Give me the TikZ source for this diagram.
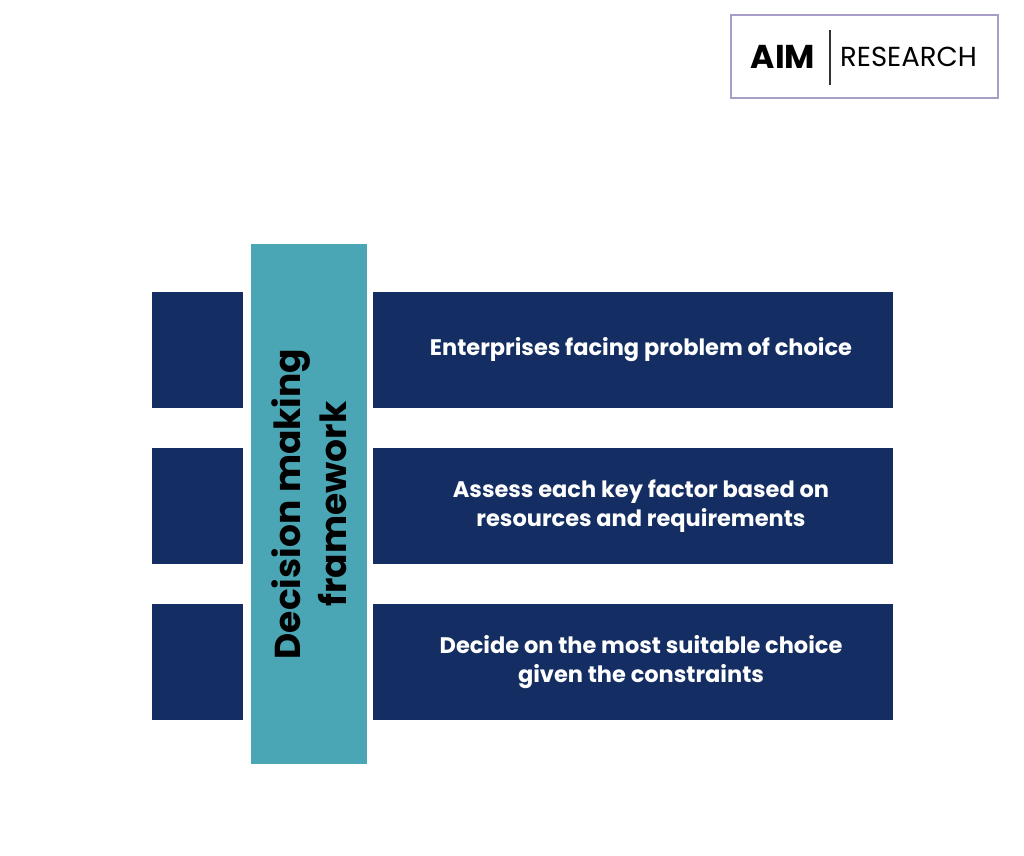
\documentclass[tikz,border=0pt]{standalone}
\usepackage{fontspec}
\setmainfont{Poppins}
\usepackage{tikz}
\definecolor{navy}{HTML}{142E63}
\definecolor{teal}{HTML}{4AA6B4}
\definecolor{lavender}{HTML}{A89CC8}
\begin{document}
\begin{tikzpicture}[x=1pt,y=-1pt,
    tab/.style={fill=navy,draw=none,minimum width=91pt,minimum height=116pt,inner sep=0pt},
    stepbox/.style={fill=navy,draw=none,minimum width=520pt,minimum height=116pt,inner sep=0pt},
    steptext/.style={text=white,font=\bfseries\fontsize{22.5}{29}\selectfont,align=center}]

    % Page
    \useasboundingbox[fill=white] (0,0) rectangle (1024,855);

    % Logo
    \node[draw=lavender,line width=1.5pt,minimum width=267pt,minimum height=83pt] (logo) at (864.5,56.5) {};
    \node[font=\bfseries\fontsize{33}{33}\selectfont,anchor=center] (aim) at (783,57) {AIM};
    \coordinate (bartop) at (830,30);
    \coordinate (barbot) at (830,85);
    \draw[line width=1.5pt,black!80] (bartop) -- (barbot);
    \node[font=\fontsize{27.5}{27}\selectfont,anchor=west,inner sep=0pt] (research) at (840,57) {RESEARCH};

    % Left tabs and step boxes
    \foreach \y/\name/\txt in {350/one/{Enterprises facing problem of choice},
                               506/two/{Assess each key factor based on\\resources and requirements},
                               662/three/{Decide on the most suitable choice\\given the constraints}} {
      \node[tab] (tab\name) at (197.5,\y) {};
      \node[stepbox] (step\name) at (633,\y) {};
      \node[steptext] (text\name) at (641,\y) {\txt};
    }

    % Central bar
    \node[fill=teal,minimum width=116pt,minimum height=520pt,inner sep=0pt] (bar) at (309,504) {};
    \node[rotate=90,align=center,font=\bfseries\fontsize{36}{46}\selectfont] (title) at (309,504)
      {Decision making\\framework};

  \end{tikzpicture}
\end{document}
